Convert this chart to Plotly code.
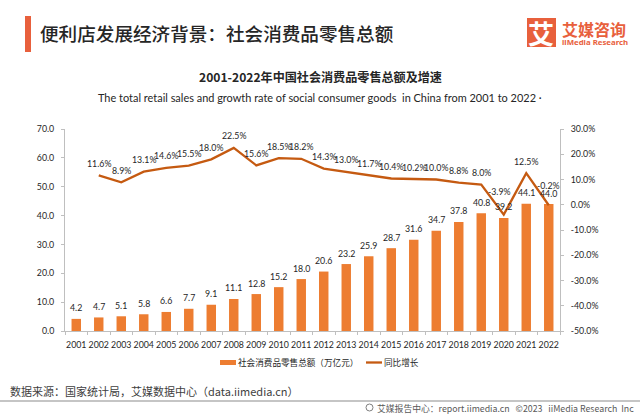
import plotly.graph_objects as go

years = [str(y) for y in range(2001, 2023)]
retail = [4.2, 4.7, 5.1, 5.8, 6.6, 7.7, 9.1, 11.1, 12.8, 15.2, 18.0, 20.6, 23.2, 25.9, 28.7, 31.6, 34.7, 37.8, 40.8, 39.2, 44.1, 44.0]
growth = [None, 11.6, 8.9, 13.1, 14.6, 15.5, 18.0, 22.5, 15.6, 18.5, 18.2, 14.3, 13.0, 11.7, 10.4, 10.2, 10.0, 8.8, 8.0, -3.9, 12.5, -0.2]
left_ticks = [0, 10, 20, 30, 40, 50, 60, 70]
right_ticks = [-50, -40, -30, -20, -10, 0, 10, 20, 30]

W, H = 640, 416
L, R, T, B = 65, 560, 129, 331
NUM = "Lato, sans-serif"
LATIN = "Lato, 'Noto Sans CJK SC', sans-serif"
CJK = "'Noto Sans CJK SC', sans-serif"
INK = "#262626"
ORANGE = "#ED7D31"
BROWN = "#C55A11"
BRAND = "#E8603C"
NS = 8.8

def px(x): return (x - L) / (R - L)
def py(y): return (B - y) / (B - T)

fig = go.Figure()
fig.add_trace(go.Bar(
    x=years, y=retail, name="社会消费品零售总额（万亿元）",
    marker=dict(color=ORANGE, line_width=0), yaxis="y",
))
fig.add_trace(go.Scatter(
    x=years, y=growth, name="同比增长", mode="lines",
    line=dict(color=BROWN, width=2.3), yaxis="y2", cliponaxis=False,
))

ann = []
growth_shift = {"2020": (-4, 23), "2022": (0, 20)}
for i, (y, r, g) in enumerate(zip(years, retail, growth)):
    ann.append(dict(x=i, y=r, xref="x", yref="y", text=f"{r:.1f}", showarrow=False, yshift=11,
                    font=dict(size=NS, color=INK, family=NUM)))
    if g is not None:
        dx, dy = growth_shift.get(y, (0, 12))
        ann.append(dict(x=i, y=g, xref="x", yref="y2", text=f"{g:.1f}%", showarrow=False,
                        xshift=dx, yshift=dy, font=dict(size=NS, color=INK, family=NUM)))

def label(x, y, text, size, anchor="left", color=INK, family=CJK, weight=None):
    f = dict(size=size, color=color, family=family)
    if weight:
        f["weight"] = weight
    ann.append(dict(x=px(x), y=py(y), xref="paper", yref="paper", text=text, showarrow=False,
                    xanchor=anchor, yanchor="middle", font=f))

label(38, 32, "便利店发展经济背景：社会消费品零售总额", 18.6, weight=500)
label(320, 76, "<b>2001-2022年中国社会消费品零售总额及增速</b>", 12.1, "center")
label(320, 97, "The total retail sales and growth rate of social consumer goods  in China from 2001 to 2022 ·", 10.95, "center", family=LATIN)
label(541, 32, "<b>艾</b>", 26, "center", "white")
label(560, 29, "<b>艾媒咨询</b>", 16, "left", BRAND)
label(560, 42, "<b>iiMedia Research</b>", 7.8, "left", BRAND, "'Noto Sans', sans-serif")
label(8, 391, "数据来源：国家统计局，艾媒数据中心（data.iimedia.cn）", 11, "left", "#404040")
label(636, 408, "艾媒报告中心：report.iimedia.cn   ©2023   iiMedia Research  Inc", 8.8, "right", "#595959")
label(236, 362, "社会消费品零售总额（万亿元）", 8.6)
label(382, 362, "同比增长", 8.6)

shapes = [
    dict(type="rect", xref="paper", yref="paper", x0=px(25), x1=px(31), y0=py(52), y1=py(16),
         fillcolor=BRAND, line_width=0),
    dict(type="rect", xref="paper", yref="paper", x0=px(527), x1=px(556), y0=py(47), y1=py(18),
         fillcolor=BRAND, line_width=0, layer="below"),
    dict(type="line", xref="paper", yref="paper", x0=px(0), x1=px(640), y0=py(401), y1=py(401),
         line=dict(color="#8C8C8C", width=1.2)),
    dict(type="rect", xref="paper", yref="paper", x0=px(220), x1=px(236), y0=py(365), y1=py(360),
         fillcolor=ORANGE, line_width=0),
    dict(type="line", xref="paper", yref="paper", x0=px(366), x1=px(382), y0=py(362.5), y1=py(362.5),
         line=dict(color=BROWN, width=2.3)),
    dict(type="circle", xref="paper", yref="paper", x0=px(366), x1=px(373), y0=py(411), y1=py(404),
         line=dict(color="#7F7F7F", width=1)),
]

axis_line = dict(showline=True, linecolor="#BFBFBF", linewidth=1, ticks="outside",
                 ticklen=3, tickcolor="#BFBFBF", showgrid=False, zeroline=False,
                 ticklabelstandoff=5, tickangle=0,
                 tickfont=dict(size=NS, color=INK, family=NUM))
fig.update_layout(
    width=W, height=H, autosize=False, template=None,
    margin=dict(l=L, r=W - R, t=T, b=H - B, pad=0),
    paper_bgcolor="white", plot_bgcolor="white", bargap=0.58, showlegend=False,
    xaxis=dict(type="category", categoryorder="array", categoryarray=years,
               range=[-0.5, 21.5], tickson="boundaries", **axis_line),
    yaxis=dict(range=[0, 70], tickvals=left_ticks, ticktext=[f"{v:.1f}" for v in left_ticks], **axis_line),
    yaxis2=dict(range=[-50, 30], overlaying="y", side="right", tickvals=right_ticks,
                ticktext=[f"{v:.1f}%" for v in right_ticks], **axis_line),
    annotations=ann, shapes=shapes,
)
fig.write_html("out.html", config={"displayModeBar": False},
               post_script="document.body.style.margin='0';")
